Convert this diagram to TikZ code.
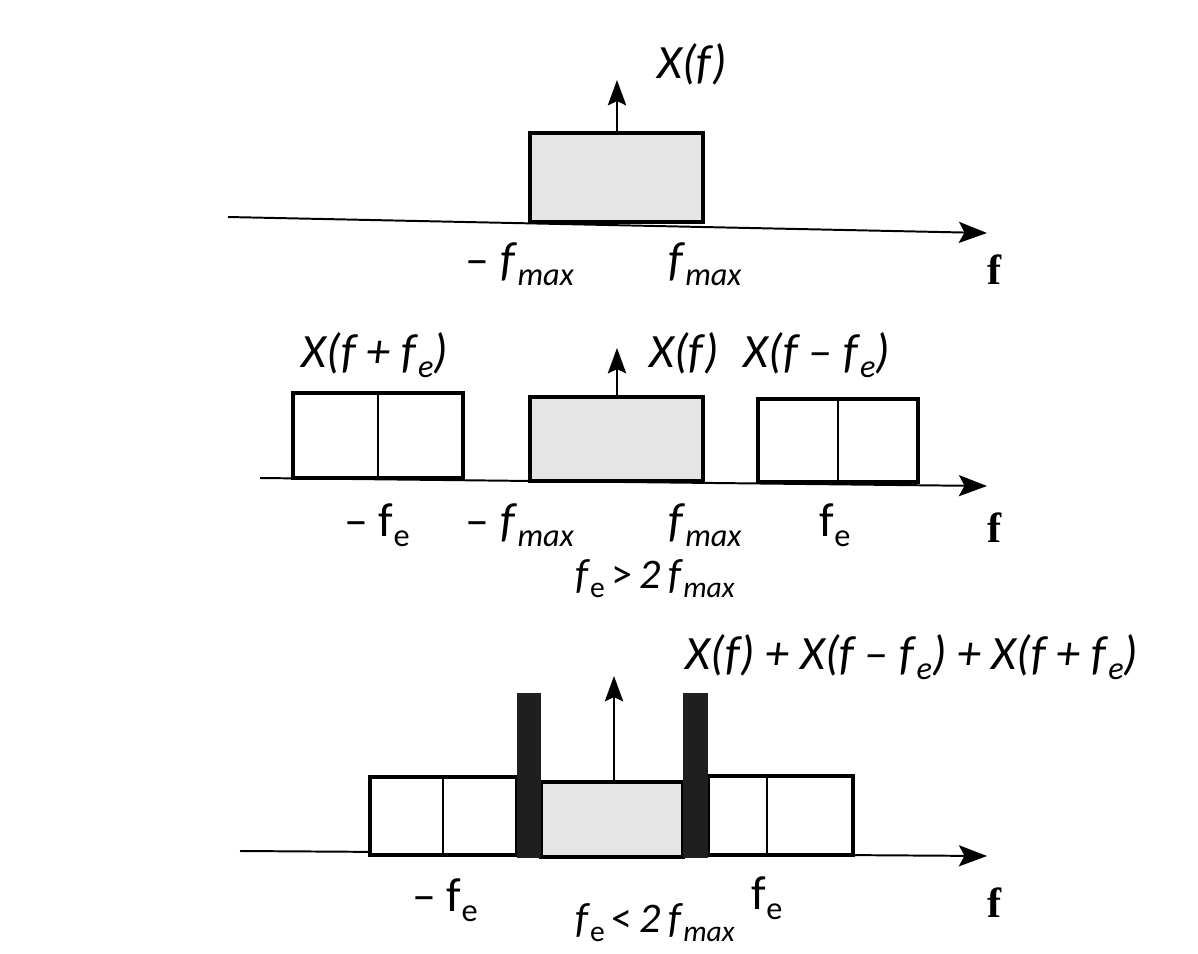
\documentclass[tikz,border=0pt]{standalone}
\usepackage{fontspec}
\setmainfont{Carlito}
\newfontfamily\serifbold{Liberation Serif}
\usetikzlibrary{fit,arrows.meta}
\newcommand{\subx}[1]{\raisebox{-0.45ex}{\fontsize{23}{23}\selectfont #1}}
\newcommand{\subc}[1]{\raisebox{-0.45ex}{\fontsize{21}{21}\selectfont #1}}
\tikzset{
  axis/.style={line width=1.4pt,-{Stealth[length=20pt,width=15pt,inset=4pt]}},
  upar/.style={line width=1.6pt,-{Stealth[length=18pt,width=13pt,inset=3pt]}},
  wbox/.style={draw,line width=2.3pt,inner sep=0pt,fill=white},
  gbox/.style={draw,line width=2.3pt,inner sep=0pt,fill=gray!20},
  bar/.style={fill=black!88,inner sep=0pt,draw=none},
  divl/.style={line width=1pt},
  lab/.style={font=\fontsize{34}{38}\selectfont,inner sep=0pt},
  clab/.style={font=\fontsize{30}{34}\selectfont,inner sep=0pt},
  flab/.style={font=\serifbold\bfseries\fontsize{30}{34}\selectfont,inner sep=0pt}
}
\begin{document}
\begin{tikzpicture}[x=0.025cm,y=-0.025cm]
\useasboundingbox[fill=white] (0,0) rectangle (1198,954);

% ---------- Panel 1 ----------
\coordinate (a1s) at (228,217);
\coordinate (a1e) at (987,233);
\draw[axis] (a1s) -- (a1e);
\coordinate (b1a) at (530,133); \coordinate (b1b) at (703,222);
\node[gbox,fit=(b1a)(b1b)] (g1) {};
\coordinate (t1) at (617,80);
\draw[upar] (g1.north -| t1) -- (t1);
\node[lab] (x1) at (692,64) {\textit{X(f)}};
\node[lab] (m1) at (520,264) {– \textit{f}\subx{\textit{max}}};
\node[lab] (p1) at (705,264) {\textit{f}\subx{\textit{max}}};
\node[flab] (f1) at (995,270) {f};

% ---------- Panel 2 ----------
\coordinate (a2s) at (260,478);
\coordinate (a2e) at (987,486);
\draw[axis] (a2s) -- (a2e);
\coordinate (l2a) at (293,393); \coordinate (l2b) at (463,478);
\node[wbox,fit=(l2a)(l2b)] (l2) {};
\draw[divl] (378,393) -- (378,478);
\coordinate (g2a) at (530,397); \coordinate (g2b) at (703,481);
\node[gbox,fit=(g2a)(g2b)] (g2) {};
\coordinate (r2a) at (758,399); \coordinate (r2b) at (918,482);
\node[wbox,fit=(r2a)(r2b)] (r2) {};
\draw[divl] (838,399) -- (838,482);
\coordinate (t2) at (617,348);
\draw[upar] (g2.north -| t2) -- (t2);
\node[lab] (x2l) at (375,355) {\textit{X(f + f}\subx{\textit{e}}\textit{)}};
\node[lab] (x2c) at (684,353) {\textit{X(f)}};
\node[lab] (x2r) at (817,355) {\textit{X(f – f}\subx{\textit{e}}\textit{)}};
\node[lab] (n2a) at (377,525) {– f\subx{e}};
\node[lab] (n2b) at (520,525) {– \textit{f}\subx{\textit{max}}};
\node[lab] (n2c) at (705,525) {\textit{f}\subx{\textit{max}}};
\node[lab] (n2d) at (835,525) {f\subx{e}};
\node[flab] (f2) at (995,528) {f};
\node[clab] (c2) at (655,579) {\textit{f}\subc{e}\,>\,\textit{2}\,\textit{f}\subc{\textit{max}}};

% ---------- Panel 3 ----------
\coordinate (a3s) at (240,851);
\coordinate (a3e) at (987,856);
\draw[axis] (a3s) -- (a3e);
\coordinate (l3a) at (370,777); \coordinate (l3b) at (517,855);
\node[wbox,fit=(l3a)(l3b)] (l3) {};
\draw[divl] (443,777) -- (443,855);
\coordinate (r3a) at (708,776); \coordinate (r3b) at (853,855);
\node[wbox,fit=(r3a)(r3b)] (r3) {};
\draw[divl] (767,776) -- (767,855);
\coordinate (g3a) at (541,782); \coordinate (g3b) at (683,857);
\node[gbox,fit=(g3a)(g3b)] (g3) {};
\coordinate (k1a) at (517,693); \coordinate (k1b) at (541,858);
\node[bar,fit=(k1a)(k1b)] (k1) {};
\coordinate (k2a) at (683,693); \coordinate (k2b) at (708,858);
\node[bar,fit=(k2a)(k2b)] (k2) {};
\coordinate (t3) at (614,676);
\draw[upar] (g3.north -| t3) -- (t3);
\node[lab] (x3) at (912,657) {\textit{X(f) + X(f – f}\subx{\textit{e}}\textit{) + X(f + f}\subx{\textit{e}}\textit{)}};
\node[lab] (n3a) at (445,900) {– f\subx{e}};
\node[lab] (n3b) at (767,898) {f\subx{e}};
\node[flab] (f3) at (995,903) {f};
\node[clab] (c3) at (655,923) {\textit{f}\subc{e}\,<\,\textit{2}\,\textit{f}\subc{\textit{max}}};
\end{tikzpicture}
\end{document}
